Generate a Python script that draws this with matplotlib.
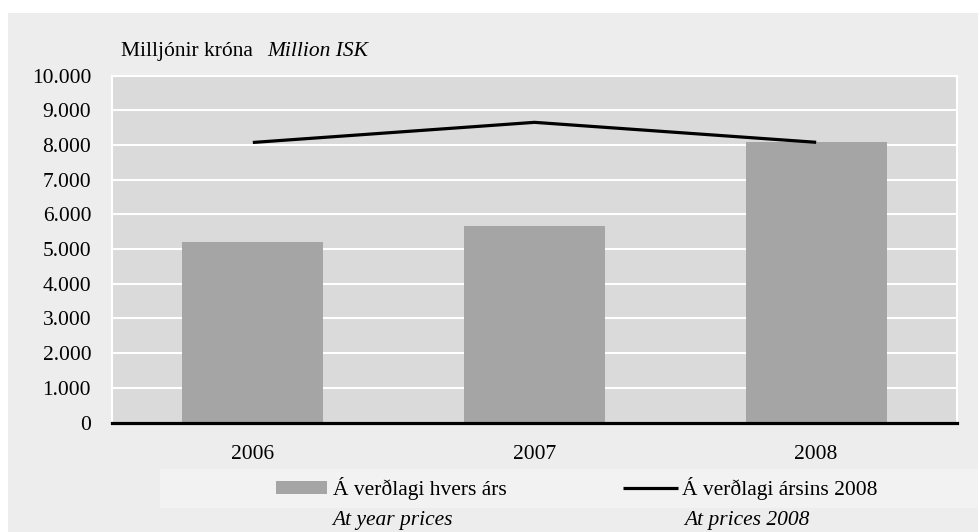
import matplotlib
matplotlib.use("Agg")
import matplotlib.pyplot as plt
from matplotlib.patches import Rectangle
from matplotlib.ticker import FuncFormatter

plt.rcParams["font.family"] = ["Liberation Serif", "DejaVu Serif"]
FS = 15.5

years = ["2006", "2007", "2008"]
current_prices = [5200, 5660, 8075]   # á verðlagi hvers árs
prices_2008 = [8070, 8650, 8075]      # á verðlagi ársins 2008
yticks = list(range(0, 10001, 1000))

W, H = 979, 532
fig = plt.figure(figsize=(W / 100, H / 100), dpi=100)
fig.patch.set_facecolor("white")

# grey panel behind everything
fig.patches.append(Rectangle((8 / W, 0), 1 - 8 / W, 1 - 13 / H, transform=fig.transFigure,
                             facecolor="#ededed", edgecolor="none", zorder=-10))
# lighter band for the legend
fig.patches.append(Rectangle((160 / W, 1 - 508 / H), 1 - 160 / W, 39 / H, transform=fig.transFigure,
                             facecolor="#f2f2f2", edgecolor="none", zorder=-9))

ax = fig.add_axes([112 / W, 1 - 422.5 / H, (957 - 112) / W, (422.5 - 75.5) / H])
ax.set_facecolor("#dadada")
x = list(range(len(years)))
bars = ax.bar(x, current_prices, width=0.5, color="#a5a5a5", zorder=2)
line, = ax.plot(x, prices_2008, color="black", lw=2.3, zorder=3, solid_capstyle="butt")

ax.set_xlim(-0.5, 2.5)
ax.set_ylim(0, 10000)
ax.set_yticks(yticks)
ax.yaxis.set_major_formatter(FuncFormatter(lambda v, p: f"{int(v):,}".replace(",", ".")))
ax.set_xticks(x)
ax.set_xticklabels(years)
ax.tick_params(axis="y", length=0, pad=15, labelsize=FS)
ax.tick_params(axis="x", length=0, pad=16, labelsize=FS)
ax.grid(axis="y", color="white", lw=1.5, zorder=1)
ax.set_axisbelow(True)
for s in ["left", "right", "top"]:
    ax.spines[s].set_color("white")
    ax.spines[s].set_linewidth(1.5)
ax.spines["bottom"].set_color("black")
ax.spines["bottom"].set_linewidth(2.3)
ax.spines["bottom"].set_zorder(4)

# unit label
fig.text(121 / W, 1 - 56 / H, "Milljónir króna", fontsize=FS, va="baseline", ha="left")
fig.text(267 / W, 1 - 56 / H, "Million ISK", fontsize=FS, va="baseline", ha="left", style="italic")

# legend
leg1 = fig.legend([bars], ["Á verðlagi hvers árs"], loc="center left",
                  bbox_to_anchor=(276 / W, 1 - 489 / H), frameon=False, fontsize=FS,
                  handlelength=2.37, handleheight=0.56, handletextpad=0.28,
                  borderaxespad=0, borderpad=0)
leg2 = fig.legend([line], ["Á verðlagi ársins 2008"], loc="center left",
                  bbox_to_anchor=(623 / W, 1 - 489 / H), frameon=False, fontsize=FS,
                  handlelength=2.56, handletextpad=0.19, borderaxespad=0, borderpad=0)
fig.text(332 / W, 1 - 525 / H, "At year prices", fontsize=FS, va="baseline", ha="left", style="italic")
fig.text(684 / W, 1 - 525 / H, "At prices 2008", fontsize=FS, va="baseline", ha="left", style="italic")

fig.savefig("out.png", dpi=100)
